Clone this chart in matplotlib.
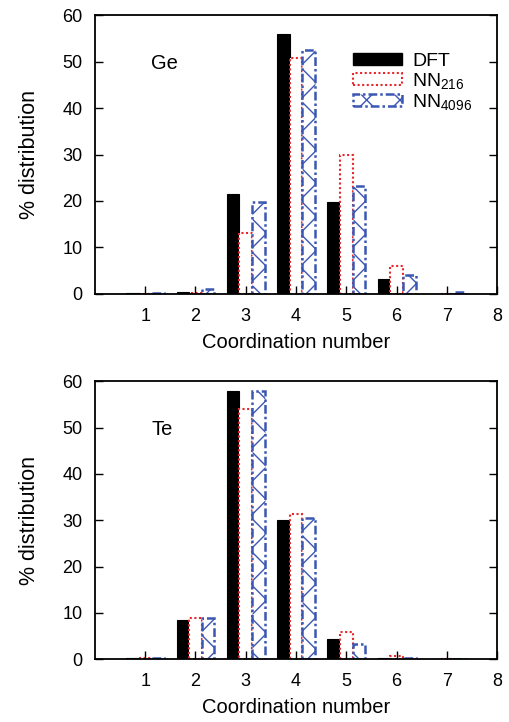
import numpy as np
import matplotlib
matplotlib.use("Agg")
import matplotlib.pyplot as plt
from matplotlib.patches import Patch

plt.rcParams['font.family'] = ['Liberation Sans', 'DejaVu Sans']
plt.rcParams['mathtext.fontset'] = 'custom'
plt.rcParams['mathtext.rm'] = 'Liberation Sans'
plt.rcParams['mathtext.it'] = 'Liberation Sans'
plt.rcParams['hatch.linewidth'] = 1.0
plt.rcParams['hatch.color'] = '#3b57b3'

# coordination numbers
cn = [1, 2, 3, 4, 5, 6, 7]

# Ge
ge_dft = [0.1, 0.35, 21.6, 55.9, 19.7, 3.3, 0.0]
ge_nn216 = [0.0, 0.2, 13.2, 50.8, 30.0, 6.1, 0.0]
ge_nn4096 = [0.1, 1.0, 19.7, 52.6, 23.2, 4.0, 0.3]

# Te
te_dft = [0.2, 8.5, 57.8, 30.0, 4.3, 0.3, 0.0]
te_nn216 = [0.2, 8.8, 53.9, 31.4, 5.8, 0.6, 0.0]
te_nn4096 = [0.3, 8.8, 57.8, 30.4, 3.2, 0.2, 0.0]

blue = '#3b57b3'
red = '#e8262a'
w = 0.25
dashdot = (0, (3.5, 1.2, 1, 1.2))

fig = plt.figure(figsize=(5.10, 7.22), dpi=100)
ax1 = fig.add_axes([0.186, 0.593, 0.789, 0.386])
ax2 = fig.add_axes([0.186, 0.087, 0.789, 0.385])


def draw(ax, dft, nn216, nn4096, label):
    x = np.array(cn)
    ax.bar(x - w, dft, width=w, color='black', edgecolor='black', linewidth=0.8)
    ax.bar(x, nn216, width=w, color='white', edgecolor=red, linewidth=1.5,
           linestyle=(0, (1, 1.2)))
    ax.bar(x + w, nn4096, width=w, color='white', edgecolor=blue, linewidth=1.8,
           linestyle=dashdot, hatch='x')
    ax.set_xlim(0, 8)
    ax.set_ylim(0, 60)
    ax.set_xticks([1, 2, 3, 4, 5, 6, 7, 8])
    ax.set_yticks([0, 10, 20, 30, 40, 50, 60])
    ax.tick_params(direction='in', length=6, width=1.0, labelsize=13,
                   right=True, top=False)
    ax.tick_params(axis='x', pad=10)
    ax.tick_params(axis='y', pad=9)
    for s in ax.spines.values():
        s.set_linewidth(1.3)
    ax.set_xlabel('Coordination number', fontsize=14.5, labelpad=6)
    ax.set_ylabel('% distribution', fontsize=15.5, labelpad=16)
    ax.text(1.12, 49.5, label, fontsize=14.5, va='center', ha='left')


draw(ax1, ge_dft, ge_nn216, ge_nn4096, 'Ge')
draw(ax2, te_dft, te_nn216, te_nn4096, 'Te')

handles = [
    Patch(facecolor='black', edgecolor='black'),
    Patch(facecolor='white', edgecolor=red, linewidth=1.5, linestyle=(0, (1, 1.2))),
    Patch(facecolor='white', edgecolor=blue, linewidth=1.8, linestyle=dashdot, hatch='x'),
]
ax1.legend(handles, ['DFT', 'NN$_{216}$', 'NN$_{4096}$'], loc='upper left',
           bbox_to_anchor=(0.642, 0.865), frameon=False, fontsize=14,
           handlelength=2.5, handleheight=0.62, labelspacing=0.05,
           handletextpad=0.55, borderaxespad=0, borderpad=0)

fig.savefig('out.png', dpi=100)
